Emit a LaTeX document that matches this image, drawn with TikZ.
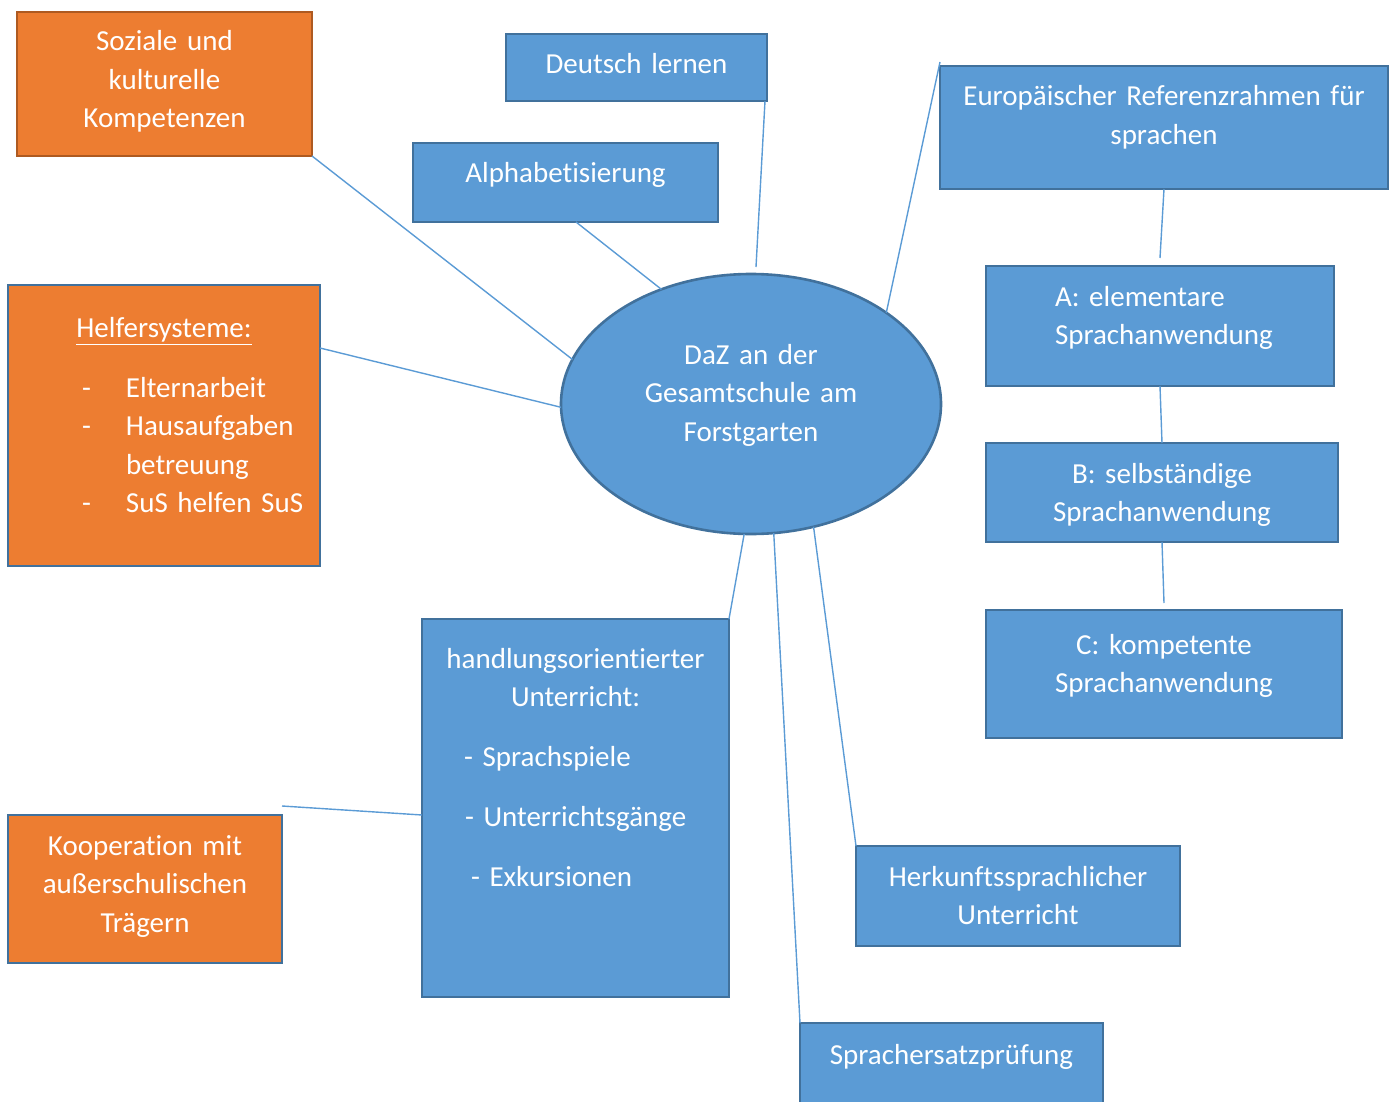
\documentclass[tikz,border=0pt]{standalone}
\usepackage{fontspec}
\setmainfont[Ligatures=NoCommon]{Carlito}
\usetikzlibrary{shapes.geometric}
\definecolor{fillblue}{HTML}{5B9BD5}
\definecolor{edgeblue}{HTML}{41719C}
\definecolor{fillorange}{HTML}{ED7D31}
\definecolor{edgeorange}{HTML}{AE5A21}
\tikzset{
  box/.style={draw=edgeblue, fill=fillblue, line width=1.3pt, text=white, inner sep=0pt, outer sep=0pt, align=center, anchor=north west},
  orangebox/.style={box, fill=fillorange},
  link/.style={draw=fillblue, line width=0.7pt}
}
\newcommand{\indline}[3]{\makebox[#1][l]{\hspace*{#2}#3}}

\begin{document}
\begin{tikzpicture}[x=0.5pt,y=-0.5pt,font=\fontsize{14.5pt}{19.25pt}\selectfont]
\useasboundingbox (0,0) rectangle (1393,1102);
\node[ellipse, draw=edgeblue, fill=fillblue, line width=1.3pt, text=white, inner sep=0pt, outer sep=0pt, minimum width=190pt, minimum height=130pt, align=center, text width=120pt, text height=10.5pt, text depth=50.5pt] (daz) at (751,404) {DaZ an der\\Gesamtschule am\\Forstgarten};
\node[orangebox, draw=edgeorange, text width=147.5pt, text height=19.5pt, text depth=52.5pt] (soz) at (17,12) {Soziale und\\kulturelle\\Kompetenzen};
\node[box, text width=130.5pt, text height=20pt, text depth=13.5pt] (dl) at (506,34) {Deutsch lernen};
\node[box, text width=152.5pt, text height=20pt, text depth=19.5pt] (alpha) at (413,143) {Alphabetisierung};
\node[box, text width=224pt, text height=20pt, text depth=41.5pt] (eur) at (940,66) {Europäischer Referenzrahmen für\\sprachen};
\node[box, text width=174pt, text height=20pt, text depth=40pt] (ela) at (986,266) {\indline{174pt}{34.5pt}{A: elementare}\\
  \indline{174pt}{34.5pt}{Sprachanwendung}};
\node[box, text width=176pt, text height=20pt, text depth=29.5pt] (selb) at (986,443) {B: selbständige\\Sprachanwendung};
\node[box, text width=178pt, text height=22pt, text depth=42pt] (komp) at (986,610) {C: kompetente\\Sprachanwendung};
\node[orangebox, text width=156pt, text height=26pt, text depth=114.5pt] (helf) at (8,285) {\underline{Helfersysteme:}\\[10.75pt]
  \indline{156pt}{37pt}{\makebox[22pt][l]{-}Elternarbeit}\\
  \indline{156pt}{37pt}{\makebox[22pt][l]{-}Hausaufgaben}\\
  \indline{156pt}{59pt}{betreuung}\\
  \indline{156pt}{37pt}{\makebox[22pt][l]{-}SuS helfen SuS}};
\node[box, text width=153.5pt, text height=24.5pt, text depth=164.5pt] (hand) at (422,619) {handlungsorientierter\\Unterricht:\\[10.75pt]
  \indline{153.5pt}{21pt}{- Sprachspiele}\\[10.75pt]
  \indline{153.5pt}{21.5pt}{- Unterrichtsgänge}\\[10.75pt]
  \indline{153.5pt}{24.5pt}{- Exkursionen}};
\node[orangebox, text width=137pt, text height=20pt, text depth=54pt] (koop) at (8,815) {Kooperation mit\\außerschulischen\\Trägern};
\node[box, text width=162pt, text height=20pt, text depth=30pt] (herk) at (856,846) {Herkunftssprachlicher\\Unterricht};
\node[box, text width=151.5pt, text height=20.5pt, text depth=29.5pt] (spra) at (800,1023) {Sprachersatzprüfung};
\coordinate (dlend) at (756,267);
\draw[link] (soz.south east) -- (daz.166);
\draw[link] ([xshift=5.25pt]alpha.south) -- (daz.128);
\draw[link] ([xshift=-1pt]dl.south east) -- (dlend);
\draw[link] (daz.34) -- ([yshift=2pt]eur.north west);
\draw[link] (eur.south) -- ([yshift=4pt]ela.north);
\draw[link] (ela.south) -- (selb.north);
\draw[link] (selb.south) -- ([yshift=3.5pt]komp.north);
\draw[link] ([yshift=-31.5pt]helf.north east) -- (daz.181);
\draw[link] (hand.north east) -- (daz.267);
\draw[link] ([yshift=4.5pt]koop.north east) -- ([yshift=-3.5pt]hand.west);
\draw[link] (daz.280) -- (spra.north west);
\draw[link] (daz.297) -- (herk.north west);
\end{tikzpicture}
\end{document}
